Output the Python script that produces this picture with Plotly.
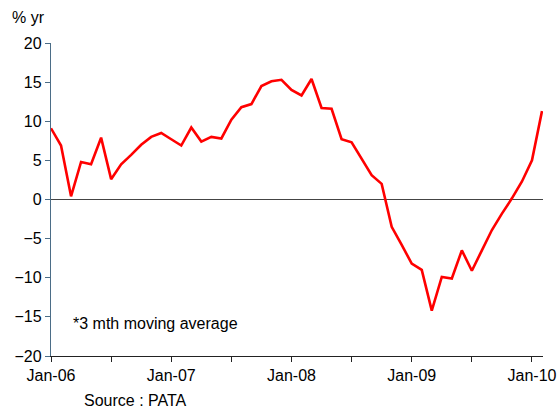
import plotly.graph_objects as go

months = [
    "Jan-06", "Feb-06", "Mar-06", "Apr-06", "May-06", "Jun-06",
    "Jul-06", "Aug-06", "Sep-06", "Oct-06", "Nov-06", "Dec-06",
    "Jan-07", "Feb-07", "Mar-07", "Apr-07", "May-07", "Jun-07",
    "Jul-07", "Aug-07", "Sep-07", "Oct-07", "Nov-07", "Dec-07",
    "Jan-08", "Feb-08", "Mar-08", "Apr-08", "May-08", "Jun-08",
    "Jul-08", "Aug-08", "Sep-08", "Oct-08", "Nov-08", "Dec-08",
    "Jan-09", "Feb-09", "Mar-09", "Apr-09", "May-09", "Jun-09",
    "Jul-09", "Aug-09", "Sep-09", "Oct-09", "Nov-09", "Dec-09",
    "Jan-10", "Feb-10",
]

growth = [
    9.1, 6.9, 0.4, 4.8, 4.5, 7.9,
    2.6, 4.5, 5.7, 7.0, 8.0, 8.5,
    7.7, 6.9, 9.2, 7.4, 8.0, 7.8,
    10.2, 11.8, 12.2, 14.5, 15.1, 15.3,
    14.0, 13.3, 15.4, 11.7, 11.6, 7.7,
    7.3, 5.2, 3.1, 2.0, -3.5, -5.8,
    -8.2, -9.0, -14.2, -9.9, -10.1, -6.5,
    -9.1, -6.5, -3.9, -1.8, 0.15, 2.3,
    5.0, 11.3,
]

tick_months = ["Jan-06", "Jul-06", "Jan-07", "Jul-07", "Jan-08",
               "Jul-08", "Jan-09", "Jul-09", "Jan-10"]
tick_labels = ["Jan-06", "", "Jan-07", "", "Jan-08", "", "Jan-09", "", "Jan-10"]
y_ticks = [20, 15, 10, 5, 0, -5, -10, -15, -20]

FONT = "Liberation Sans, Arial, sans-serif"

plot_l, plot_r, plot_t, plot_b = 51, 543, 43, 356
W, H = 560, 409


def px_to_paper(px, py):
    return ((px - plot_l) / (plot_r - plot_l), (plot_b - py) / (plot_b - plot_t))


fig = go.Figure()
fig.add_trace(go.Scatter(
    x=months, y=growth, mode="lines",
    line=dict(color="#ff0000", width=2.6),
    hoverinfo="skip", showlegend=False,
))

texts = [("% yr", 10, 17), ("*3 mth moving average", 71, 323), ("Source : PATA", 82, 400)]
annotations = []
for t, px, py in texts:
    ax, ay = px_to_paper(px, py)
    annotations.append(dict(text=t, x=ax, y=ay, xref="paper", yref="paper",
                            showarrow=False, xanchor="left", yanchor="middle",
                            font=dict(size=16)))

fig.update_layout(
    width=W, height=H,
    margin=dict(l=plot_l, r=W - plot_r, t=plot_t, b=H - plot_b, autoexpand=False),
    paper_bgcolor="white", plot_bgcolor="white",
    font=dict(family=FONT, size=16, color="black"),
    xaxis=dict(
        type="category",
        range=[0, 49.1],
        tickmode="array", tickvals=tick_months, ticktext=tick_labels,
        showline=True, linecolor="#222222", linewidth=1,
        ticks="outside", ticklen=5, tickcolor="#222222",
        showgrid=False, zeroline=False,
        tickfont=dict(size=16),
    ),
    yaxis=dict(
        range=[-20, 20],
        tickmode="array", tickvals=y_ticks,
        showline=True, linecolor="#4b6d87", linewidth=1.3,
        ticks="outside", ticklen=5, tickcolor="#4b6d87",
        showgrid=False,
        zeroline=True, zerolinecolor="#444444", zerolinewidth=1.3,
        tickfont=dict(size=16),
    ),
    annotations=annotations,
)

fig.write_html(
    "out.html",
    config={"displayModeBar": False},
    post_script="document.body.style.margin='0';document.body.style.padding='0';",
)
